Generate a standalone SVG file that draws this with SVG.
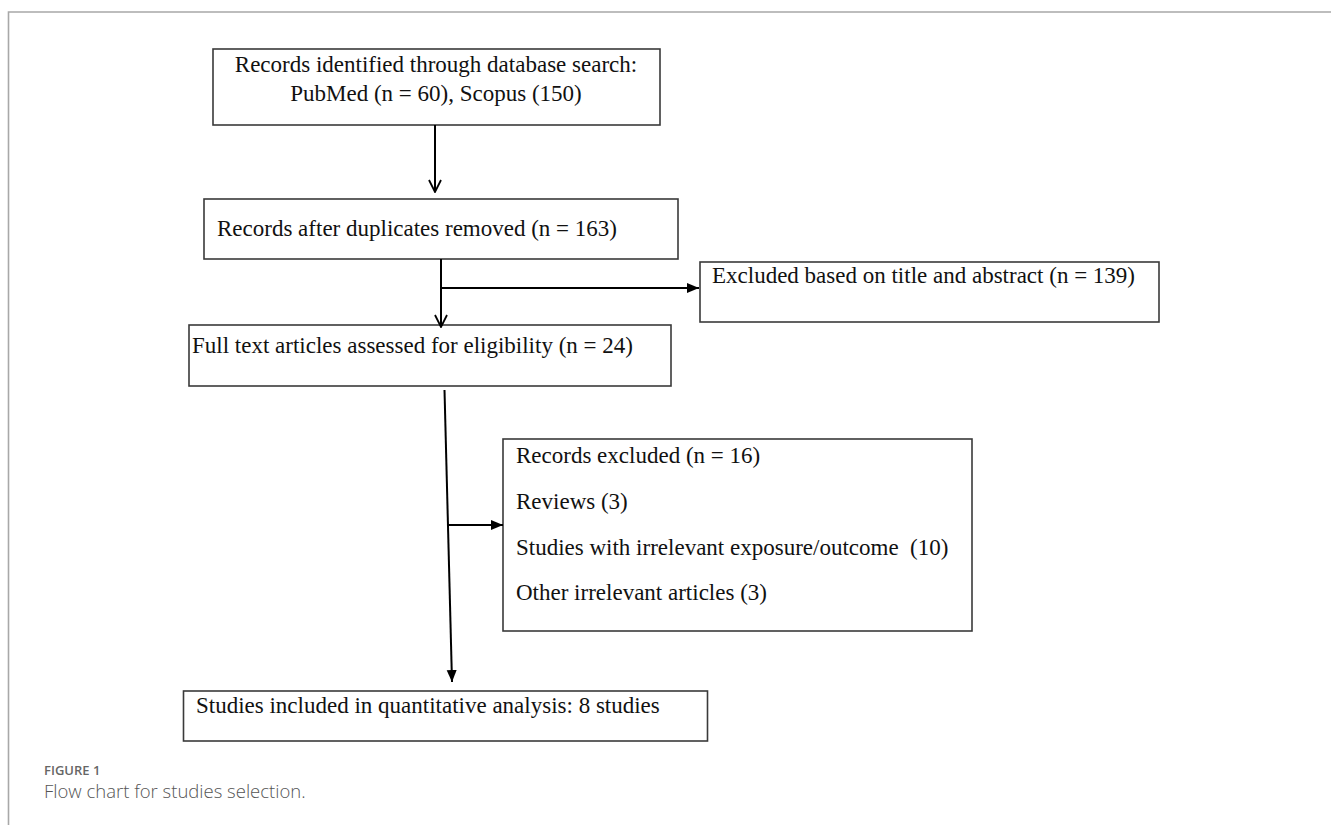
<svg xmlns="http://www.w3.org/2000/svg" width="1331" height="825" viewBox="0 0 1331 825">
<style>
.box{fill:#fff;stroke:#3a3a3a;stroke-width:1.6}
.t{font-family:"Liberation Serif","Times New Roman",serif;font-size:23px;fill:#111}
.c{stroke:#000;stroke-width:2;fill:none}
.frame{stroke:#a8a8a8;stroke-width:1.6;fill:none}
.cap1{font-family:"Open Sans","Noto Sans",sans-serif;font-size:13px;font-weight:600;fill:#666}
.cap2{font-family:"Open Sans","Noto Sans",sans-serif;font-size:18.5px;font-weight:300;fill:#555}
</style>
<defs>
<marker id="fill" viewBox="0 0 12 12" refX="12" refY="6" markerWidth="12" markerHeight="12" markerUnits="userSpaceOnUse" orient="auto">
<path d="M0,1 L12,6 L0,11 Z" fill="#000"/>
</marker>
<marker id="open" viewBox="0 0 14 14" refX="13" refY="7" markerWidth="14" markerHeight="14" markerUnits="userSpaceOnUse" orient="auto">
<path d="M1,1 L13,7 L1,13" fill="none" stroke="#000" stroke-width="1.8"/>
</marker>
</defs>
<path class="frame" d="M8.5,825 L8.5,12 L1331,12"/>
<g id="n1">
<rect class="box" x="213" y="49" width="447" height="76"/>
<text class="t" x="436" y="72" text-anchor="middle">Records identified through database search:</text>
<text class="t" x="436" y="101" text-anchor="middle">PubMed (n = 60), Scopus (150)</text>
</g>
<g id="n2">
<rect class="box" x="204" y="199" width="474" height="60"/>
<text class="t" x="217" y="236">Records after duplicates removed (n = 163)</text>
</g>
<g id="n3">
<rect class="box" x="700" y="262" width="459" height="60"/>
<text class="t" x="712" y="283">Excluded based on title and abstract (n = 139)</text>
</g>
<g id="n4">
<rect class="box" x="189" y="325" width="482" height="61"/>
<text class="t" x="192" y="353">Full text articles assessed for eligibility (n = 24)</text>
</g>
<g id="n5">
<rect class="box" x="503" y="439" width="469" height="192"/>
<text class="t" x="516" y="463">Records excluded (n = 16)</text>
<text class="t" x="516" y="509">Reviews (3)</text>
<text class="t" x="516" y="555" xml:space="preserve">Studies with irrelevant exposure/outcome  (10)</text>
<text class="t" x="516" y="600">Other irrelevant articles (3)</text>
</g>
<g id="n6">
<rect class="box" x="183.5" y="691" width="524" height="50"/>
<text class="t" x="196" y="713">Studies included in quantitative analysis: 8 studies</text>
</g>
<g id="connectors">
<line class="c" x1="435" y1="125" x2="435" y2="192" marker-end="url(#open)"/>
<line class="c" x1="441" y1="259" x2="441" y2="327" marker-end="url(#open)"/>
<line class="c" x1="441" y1="288" x2="699" y2="288" marker-end="url(#fill)"/>
<line class="c" x1="444.5" y1="390" x2="452" y2="682" marker-end="url(#fill)"/>
<line class="c" x1="448" y1="525" x2="503" y2="525" marker-end="url(#fill)"/>
</g>
<text class="cap1" x="44" y="775">FIGURE 1</text>
<text class="cap2" x="44" y="798">Flow chart for studies selection.</text>
</svg>
